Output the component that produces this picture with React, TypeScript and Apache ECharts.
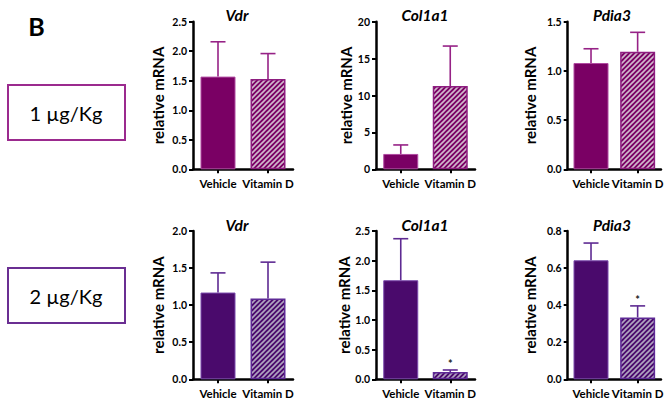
import React, { useEffect, useRef } from "react";
import * as echarts from "echarts";

const categories = ["Vehicle", "Vitamin D"];
const panelTitles = ["Vdr", "Col1a1", "Pdia3", "Vdr", "Col1a1", "Pdia3"];
const doseLabels = ["1 µg/Kg", "2 µg/Kg"];

const vdr1Mean = [1.57, 1.53];
const vdr1Sem = [0.59, 0.43];
const col1a1_1Mean = [2.08, 11.29];
const col1a1_1Sem = [1.22, 5.41];
const pdia3_1Mean = [1.08, 1.195];
const pdia3_1Sem = [0.145, 0.197];
const vdr2Mean = [1.17, 1.09];
const vdr2Sem = [0.265, 0.49];
const col1a1_2Mean = [1.67, 0.123];
const col1a1_2Sem = [0.7, 0.034];
const pdia3_2Mean = [0.642, 0.334];
const pdia3_2Sem = [0.093, 0.062];

const noStars = ["", ""];
const col1a1_2Stars = ["", "*"];
const pdia3_2Stars = ["", "*"];

const yMax = [2.5, 20, 1.5, 2.0, 2.5, 0.8];
const yInterval = [0.5, 5, 0.5, 0.5, 0.5, 0.2];
const yDecimals = [1, 0, 1, 1, 1, 1];

const means = [vdr1Mean, col1a1_1Mean, pdia3_1Mean, vdr2Mean, col1a1_2Mean, pdia3_2Mean];
const sems = [vdr1Sem, col1a1_1Sem, pdia3_1Sem, vdr2Sem, col1a1_2Sem, pdia3_2Sem];
const stars = [noStars, noStars, noStars, noStars, col1a1_2Stars, pdia3_2Stars];

const FONT = "Lato, 'Open Sans', sans-serif";

function makeHatch(bg: string, fg: string) {
  const s = 5;
  const c = document.createElement("canvas");
  c.width = s;
  c.height = s;
  const ctx = c.getContext("2d")!;
  ctx.fillStyle = bg;
  ctx.fillRect(0, 0, s, s);
  ctx.strokeStyle = fg;
  ctx.lineWidth = 1.6;
  ctx.beginPath();
  ctx.moveTo(-1, s + 1);
  ctx.lineTo(s + 1, -1);
  ctx.moveTo(-1, 1);
  ctx.lineTo(1, -1);
  ctx.moveTo(s - 1, s + 1);
  ctx.lineTo(s + 1, s - 1);
  ctx.stroke();
  return c;
}

export default function App() {
  const ref = useRef<HTMLDivElement>(null);
  useEffect(() => {
    if (!ref.current) return;
    const chart = echarts.init(ref.current, null, { renderer: "svg" });

    const rowFill = ["#7a0064", "#4a0a6c"];
    const rowBorder = ["#b04aa0", "#7a4aac"];
    const rowErr = ["#962286", "#5e2a92"];
    const rowHatchBorder = ["#8e1e80", "#5e2a96"];
    const hatchFg = ["#d0b8cc", "#b0a4c0"];
    const hatches = [makeHatch(rowFill[0], hatchFg[0]), makeHatch(rowFill[1], hatchFg[1])];

    const lefts = [193, 376, 567.7];
    const widths = [100, 99, 99];
    const tops = [21.7, 231];
    const heights = [147.6, 148.3];
    const nameGaps = [28, 23, 30, 28, 24, 30];
    const titleX = [237, 425, 612];
    const titleY = [15, 225];

    const grid: any[] = [];
    const xAxis: any[] = [];
    const yAxis: any[] = [];
    const series: any[] = [];
    const graphic: any[] = [];

    for (let i = 0; i < 6; i++) {
      const row = Math.floor(i / 3);
      const col = i % 3;
      grid.push({ left: lefts[col], top: tops[row], width: widths[col], height: heights[row] });
      xAxis.push({
        type: "category",
        gridIndex: i,
        data: categories,
        boundaryGap: true,
        axisLine: { show: true, lineStyle: { color: "#000", width: 2.5 } },
        axisTick: { show: true, alignWithLabel: true, length: 4, lineStyle: { color: "#000", width: 2 } },
        axisLabel: { color: "#000", fontWeight: "bold", fontSize: 11.5, fontFamily: FONT, margin: 8, interval: 0 },
        splitLine: { show: false },
      });
      const dec = yDecimals[i];
      yAxis.push({
        type: "value",
        gridIndex: i,
        min: 0,
        max: yMax[i],
        interval: yInterval[i],
        name: "relative mRNA",
        nameLocation: "middle",
        nameGap: nameGaps[i],
        nameTextStyle: { color: "#000", fontWeight: "bold", fontSize: 15, fontFamily: FONT },
        axisLine: { show: true, lineStyle: { color: "#000", width: 2.5 } },
        axisTick: { show: true, length: 4, lineStyle: { color: "#000", width: 2 } },
        axisLabel: {
          color: "#000",
          fontWeight: "bold",
          fontSize: 10.5,
          fontFamily: FONT,
          margin: 6,
          formatter: (v: number) => v.toFixed(dec),
        },
        splitLine: { show: false },
      });
      const m = means[i];
      series.push({
        type: "bar",
        xAxisIndex: i,
        yAxisIndex: i,
        barWidth: 35,
        data: m.map((v, k) => ({
          value: v,
          itemStyle:
            k === 0
              ? { color: rowFill[row], borderColor: rowBorder[row], borderWidth: 1 }
              : { color: { image: hatches[row], repeat: "repeat" }, borderColor: rowHatchBorder[row], borderWidth: 1.5 },
        })),
      });
      const sm = sems[i];
      const st = stars[i];
      const errColor = rowErr[row];
      series.push({
        type: "custom",
        xAxisIndex: i,
        yAxisIndex: i,
        z: 5,
        data: m.map((v, k) => [k, v, v + sm[k]]),
        renderItem: (params: any, api: any) => {
          const k = api.value(0);
          const base = api.coord([k, api.value(1)]);
          const top = api.coord([k, api.value(2)]);
          const children: any[] = [
            { type: "line", shape: { x1: base[0], y1: base[1], x2: top[0], y2: top[1] }, style: { stroke: errColor, lineWidth: 1.6 } },
            { type: "line", shape: { x1: top[0] - 7.5, y1: top[1], x2: top[0] + 7.5, y2: top[1] }, style: { stroke: errColor, lineWidth: 1.6 } },
          ];
          const s = st[params.dataIndex];
          if (s) {
            children.push({
              type: "text",
              x: top[0],
              y: top[1] - 1,
              style: { text: s, fill: "#222", fontSize: 11, fontWeight: "bold", fontFamily: FONT, align: "center", verticalAlign: "bottom" },
            });
          }
          return { type: "group", children };
        },
      });
      graphic.push({
        type: "text",
        x: titleX[col],
        y: titleY[row],
        style: {
          text: panelTitles[i],
          fill: "#000",
          fontSize: 15.5,
          fontWeight: "bold",
          fontStyle: "italic",
          fontFamily: FONT,
          align: "center",
          verticalAlign: "middle",
        },
      });
    }

    graphic.push({
      type: "text",
      x: 36.5,
      y: 26,
      style: { text: "B", fill: "#000", fontSize: 25, fontWeight: "bold", fontFamily: FONT, align: "center", verticalAlign: "middle" },
    });
    const boxTops = [85, 268];
    const boxColors = ["#9b2a8e", "#6a2e92"];
    for (let r = 0; r < 2; r++) {
      graphic.push({
        type: "rect",
        shape: { x: 8, y: boxTops[r], width: 117, height: 55 },
        style: { fill: "#fff", stroke: boxColors[r], lineWidth: 2 },
      });
      graphic.push({
        type: "text",
        x: 66,
        y: boxTops[r] + 28,
        style: { text: doseLabels[r], fill: "#000", fontSize: 20, fontFamily: FONT, align: "center", verticalAlign: "middle" },
      });
    }

    chart.setOption({
      animation: false,
      backgroundColor: "#fff",
      grid,
      xAxis,
      yAxis,
      series,
      graphic,
    });
    return () => chart.dispose();
  }, []);
  return <div ref={ref} style={{ width: 665, height: 403, position: "absolute", left: 0, top: 0 }} />;
}
